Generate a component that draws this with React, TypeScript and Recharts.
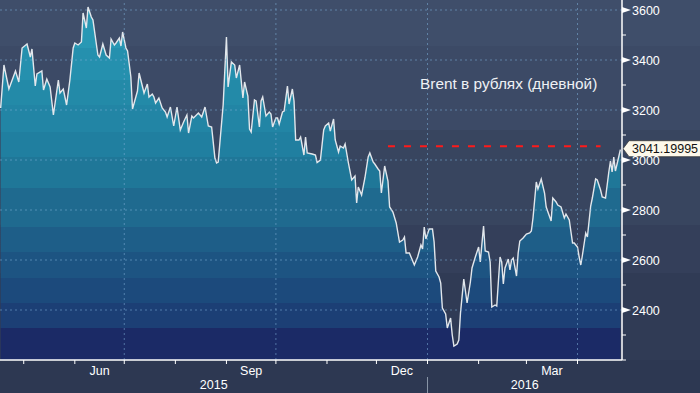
import { Area, AreaChart, ReferenceLine, XAxis, YAxis } from 'recharts';

const ORIGIN = Date.UTC(2015, 4, 1);
const DAY_MS = 86_400_000;
const dayOf = (y: number, m: number, d: number) => (Date.UTC(y, m - 1, d) - ORIGIN) / DAY_MS;

// trading days, as day offsets from 1 May 2015
const tradeDays = [
  -14, -12, -9, -5, -3, -1, 2, 4, 5, 7,
  8, 11, 12, 14, 16, 18, 21, 22, 24, 26,
  28, 30, 31, 33, 35, 36, 38, 39, 41, 42,
  45, 46, 48, 50, 52, 53, 55, 56, 58, 59,
  60, 62, 63, 65, 66, 69, 70, 73, 75, 76,
  78, 79, 80, 82, 84, 86, 87, 89, 91, 93,
  95, 97, 99, 100, 102, 103, 106, 108, 110, 112,
  114, 116, 117, 118, 121, 123, 124, 126, 128, 129,
  131, 133, 134, 136, 137, 138, 140, 141, 143, 144,
  145, 147, 149, 150, 151, 153, 154, 155, 157, 158,
  160, 161, 163, 164, 165, 167, 168, 170, 171, 172,
  175, 177, 178, 180, 182, 183, 185, 186, 188, 189,
  191, 192, 194, 195, 197, 199, 201, 202, 203, 205,
  207, 209, 210, 212, 213, 215, 216, 217, 219, 221,
  222, 224, 226, 228, 230, 231, 232, 234, 235, 237,
  239, 241, 242, 243, 244, 246, 248, 249, 250, 252,
  253, 254, 256, 257, 259, 260, 261, 263, 264, 265,
  267, 269, 271, 272, 274, 276, 277, 279, 280, 282,
  283, 284, 286, 287, 289, 290, 291, 292, 294, 295,
  296, 297, 299, 300, 301, 303, 305, 307, 308, 309,
  311, 312, 314, 316, 317, 320, 321, 323, 324, 326,
  328, 329, 331, 333, 334, 336, 337, 338, 339, 341,
  342, 344, 345, 347, 348, 350, 351, 353, 355, 356,
  357, 358, 359, 361, 362,
];

// Brent priced in roubles, daily close
const brentRub = [
  3208, 3380, 3284, 3356, 3312, 3448, 3464, 3412, 3444, 3296,
  3344, 3356, 3280, 3324, 3292, 3180, 3320, 3268, 3284, 3220,
  3320, 3448, 3468, 3460, 3472, 3588, 3528, 3612, 3572, 3560,
  3420, 3412, 3464, 3420, 3408, 3484, 3460, 3468, 3488, 3456,
  3512, 3448, 3436, 3332, 3204, 3276, 3348, 3268, 3304, 3252,
  3264, 3252, 3228, 3248, 3208, 3192, 3172, 3212, 3136, 3212,
  3120, 3152, 3180, 3108, 3176, 3168, 3188, 3172, 3212, 3136,
  3132, 3008, 2988, 2992, 3220, 3492, 3292, 3392, 3380, 3328,
  3380, 3248, 3312, 3256, 3124, 3112, 3240, 3236, 3132, 3236,
  3252, 3176, 3192, 3184, 3132, 3168, 3168, 3144, 3192, 3196,
  3296, 3224, 3284, 3236, 3080, 3080, 3092, 3020, 3092, 3028,
  3024, 3020, 2990, 3000, 3120, 3136, 3148, 3116, 3164, 3080,
  3032, 3056, 3048, 3064, 2988, 2920, 2936, 2828, 2892, 2860,
  2928, 3012, 3028, 2992, 2984, 2964, 2956, 2868, 2976, 2916,
  2812, 2792, 2748, 2672, 2680, 2692, 2628, 2628, 2612, 2580,
  2612, 2660, 2644, 2732, 2684, 2724, 2724, 2672, 2556, 2532,
  2508, 2408, 2384, 2328, 2368, 2300, 2256, 2264, 2280, 2388,
  2524, 2428, 2512, 2568, 2612, 2652, 2592, 2736, 2636, 2632,
  2592, 2412, 2420, 2416, 2612, 2592, 2504, 2568, 2604, 2560,
  2600, 2608, 2536, 2628, 2676, 2688, 2704, 2708, 2716, 2768,
  2912, 2884, 2924, 2868, 2812, 2756, 2848, 2832, 2820, 2812,
  2768, 2784, 2760, 2668, 2668, 2652, 2612, 2580, 2620, 2708,
  2692, 2816, 2848, 2924, 2920, 2880, 2852, 2848, 2952, 2996,
  2952, 3012, 2956, 3012, 3041.19995,
];

const lastPrice = 3041.19995;
const markLevel = 3055;
const markFrom = dayOf(2015, 12, 8);
const markTo = dayOf(2016, 4, 15);

const xDomain: [number, number] = [-14.4, 363];
const yDomain: [number, number] = [2200, 3640];
const yTicks = [2200, 2300, 2400, 2500, 2600, 2700, 2800, 2900, 3000, 3100, 3200, 3300, 3400, 3500, 3600];
const yMajor = [2400, 2600, 2800, 3000, 3200, 3400, 3600];

const monthStarts: [number, number][] = [
  [2015, 5], [2015, 6], [2015, 7], [2015, 8], [2015, 9], [2015, 10],
  [2015, 11], [2015, 12], [2016, 1], [2016, 2], [2016, 3], [2016, 4],
];
const monthLabels: [number, number, string][] = [
  [2015, 6, 'Jun'], [2015, 9, 'Sep'], [2015, 12, 'Dec'], [2016, 3, 'Mar'],
];
const quarterStarts: [number, number][] = [[2015, 7], [2015, 10], [2016, 1], [2016, 4]];
const years = [2015, 2016];
const title = 'Brent в рублях (дневной)';

const data = tradeDays.map((day, i) => ({ day, price: brentRub[i] }));

const FONT = '"Liberation Sans", Arial, sans-serif';
const newYear = dayOf(2016, 1, 1);

const tickKind = new Map<number, { kind: string; text?: string }>();
monthStarts.forEach(([y, m]) => tickKind.set(dayOf(y, m, 1), { kind: 'start' }));
monthLabels.forEach(([y, m, text]) => {
  const mid = (dayOf(y, m, 1) + dayOf(m === 12 ? y + 1 : y, m === 12 ? 1 : m + 1, 1)) / 2;
  tickKind.set(mid, { kind: 'month', text });
});
years.forEach(y => {
  const from = Math.max(xDomain[0], dayOf(y, 1, 1));
  const to = Math.min(xDomain[1], dayOf(y + 1, 1, 1));
  tickKind.set((from + to) / 2, { kind: 'year', text: String(y) });
});
const xTicks = [...tickKind.keys()].sort((a, b) => a - b);

// horizontal colour bands of the fill, top to bottom (y offsets in px of the 360px plot)
const bandEdges = [0, 48, 80, 105, 132, 157, 188, 227, 252, 278, 303, 328, 360];
const bandColors = [
  '#2898b4', '#2590ae', '#238aa8', '#2285a5', '#207fa0', '#1f7798',
  '#1f6a8f', '#1e5e88', '#1d5482', '#1c4a7c', '#1c3f75', '#1b2a66',
];

const background =
  'linear-gradient(to bottom, #3f4e6a 0px, #3f4e6a 46px, #3c4a66 46px, #3c4a66 130px, ' +
  '#38455f 130px, #38455f 225px, #343f5a 225px, #343f5a 273px, #303b55 273px, ' +
  '#303b55 360px, #2d3852 360px, #2d3852 393px)';

const gridStroke = 'rgba(125, 175, 215, 0.55)';

function XTick({ x, y, payload }: any) {
  const info = tickKind.get(payload.value);
  if (!info) return null;
  if (info.kind === 'start') {
    return (
      <g>
        <line x1={x} x2={x} y1={y} y2={y + 4} stroke="#ffffff" strokeWidth={1} />
        {payload.value === newYear && (
          <line x1={x} x2={x} y1={y + 17} y2={y + 33} stroke="#8a96a8" strokeWidth={1} />
        )}
      </g>
    );
  }
  return (
    <text
      x={x}
      y={info.kind === 'month' ? y + 15 : y + 29}
      textAnchor="middle"
      fill="#ffffff"
      fontSize={12.5}
      fontFamily={FONT}
    >
      {info.text}
    </text>
  );
}

function YTick({ x, y, payload }: any) {
  const v = payload.value;
  if (yMajor.includes(v)) {
    return (
      <g>
        <polygon points={`${x},${y - 3} ${x + 9},${y} ${x},${y + 3}`} fill="#ffffff" />
        <text x={x + 10} y={y} dy="0.36em" fill="#ffffff" fontSize={12.5} fontFamily={FONT}>
          {v}
        </text>
      </g>
    );
  }
  return <line x1={x} x2={x + 4} y1={y} y2={y} stroke="#ffffff" strokeWidth={1} />;
}

function PriceTag({ viewBox }: any) {
  const x = viewBox.x + viewBox.width + 1;
  const y = viewBox.y - 1;
  return (
    <g>
      <polygon
        points={`${x},${y} ${x + 6},${y - 8} ${x + 90},${y - 8} ${x + 90},${y + 8} ${x + 6},${y + 8}`}
        fill="#fdf8ea"
        stroke="#3a3a3a"
        strokeWidth={0.8}
      />
      <text x={x + 9} y={y} dy="0.36em" fill="#111111" fontSize={12.5} fontFamily={FONT}>
        {lastPrice.toFixed(5)}
      </text>
    </g>
  );
}

export default function App() {
  return (
    <div style={{ position: 'absolute', left: 0, top: 0, width: 700, height: 393, background }}>
      <AreaChart width={700} height={393} data={data} margin={{ top: 0, right: 0, bottom: 0, left: 0 }}>
        <defs>
          <linearGradient id="bands" gradientUnits="userSpaceOnUse" x1={0} y1={0} x2={0} y2={360}>
            {bandColors.flatMap((c, i) => [
              <stop key={`a${i}`} offset={bandEdges[i] / 360} stopColor={c} />,
              <stop key={`b${i}`} offset={bandEdges[i + 1] / 360} stopColor={c} />,
            ])}
          </linearGradient>
        </defs>
        <XAxis
          dataKey="day"
          type="number"
          domain={xDomain}
          allowDataOverflow
          ticks={xTicks}
          interval={0}
          tick={XTick}
          tickLine={false}
          tickSize={0}
          tickMargin={0}
          height={33}
          axisLine={{ stroke: '#ffffff', strokeWidth: 1.5 }}
        />
        <YAxis
          orientation="right"
          domain={yDomain}
          allowDataOverflow
          ticks={yTicks}
          interval={0}
          tick={YTick}
          tickLine={false}
          tickSize={0}
          tickMargin={0}
          width={78}
          axisLine={{ stroke: '#ffffff', strokeWidth: 1.5 }}
        />
        <Area
          dataKey="price"
          type="linear"
          stroke="#e2e7ec"
          strokeWidth={1.4}
          fill="url(#bands)"
          fillOpacity={1}
          dot={false}
          activeDot={false}
          isAnimationActive={false}
        />
        {yMajor.map(v => (
          <ReferenceLine key={`h${v}`} y={v} stroke={gridStroke} strokeDasharray="2 3" />
        ))}
        {quarterStarts.map(([y, m]) => (
          <ReferenceLine key={`v${y}${m}`} x={dayOf(y, m, 1)} stroke={gridStroke} strokeDasharray="2 3" />
        ))}
        <ReferenceLine
          segment={[
            { x: markFrom, y: markLevel },
            { x: markTo, y: markLevel },
          ]}
          stroke="#ff1a1a"
          strokeWidth={2}
          strokeDasharray="7 9"
        />
        <ReferenceLine y={lastPrice} stroke="none" label={{ content: PriceTag }} />
      </AreaChart>
      <div
        style={{
          position: 'absolute',
          left: 420,
          top: 75,
          color: '#eef0f4',
          fontSize: 15.4,
          fontFamily: FONT,
          whiteSpace: 'nowrap',
        }}
      >
        {title}
      </div>
    </div>
  );
}
